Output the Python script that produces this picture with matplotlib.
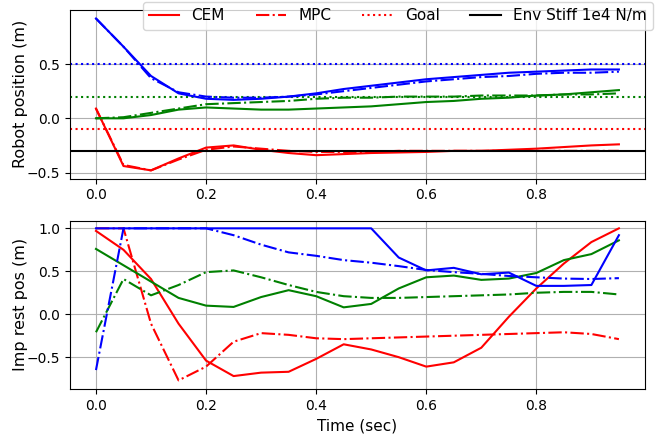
import matplotlib
matplotlib.use("Agg")
import matplotlib.pyplot as plt

# time axis (sec)
t = [0.0, 0.05, 0.1, 0.15, 0.2, 0.25, 0.3, 0.35, 0.4, 0.45,
     0.5, 0.55, 0.6, 0.65, 0.7, 0.75, 0.8, 0.85, 0.9, 0.95]

# robot position (m)
pos_cem_red = [0.09, -0.44, -0.48, -0.37, -0.27, -0.25, -0.29, -0.32, -0.34, -0.33,
               -0.32, -0.315, -0.31, -0.30, -0.30, -0.29, -0.28, -0.265, -0.25, -0.24]
pos_mpc_red = [0.09, -0.43, -0.48, -0.38, -0.29, -0.26, -0.28, -0.30, -0.31, -0.31,
               -0.31, -0.30, -0.30, -0.30, -0.30, -0.30, -0.30, -0.30, -0.30, -0.30]
pos_cem_green = [0.0, 0.0, 0.03, 0.08, 0.10, 0.09, 0.08, 0.08, 0.09, 0.10,
                 0.11, 0.13, 0.15, 0.16, 0.18, 0.19, 0.21, 0.22, 0.24, 0.26]
pos_mpc_green = [0.0, 0.01, 0.05, 0.09, 0.13, 0.14, 0.15, 0.16, 0.18, 0.19,
                 0.19, 0.20, 0.20, 0.20, 0.21, 0.21, 0.21, 0.22, 0.22, 0.23]
pos_cem_blue = [0.92, 0.66, 0.39, 0.23, 0.18, 0.17, 0.18, 0.20, 0.23, 0.27,
                0.30, 0.33, 0.36, 0.38, 0.40, 0.42, 0.43, 0.44, 0.45, 0.45]
pos_mpc_blue = [0.92, 0.66, 0.37, 0.24, 0.20, 0.19, 0.19, 0.20, 0.22, 0.25,
                0.28, 0.31, 0.34, 0.36, 0.38, 0.39, 0.41, 0.42, 0.42, 0.43]

goals = {"red": -0.1, "green": 0.2, "blue": 0.5}
env_wall = -0.3

# impedance rest position (m)
imp_cem_red = [0.97, 0.75, 0.41, -0.11, -0.54, -0.72, -0.68, -0.67, -0.52, -0.35,
               -0.41, -0.50, -0.61, -0.56, -0.39, -0.03, 0.30, 0.59, 0.84, 1.0]
imp_mpc_red = [1.0, 1.0, -0.11, -0.77, -0.61, -0.32, -0.22, -0.24, -0.28, -0.29,
               -0.28, -0.27, -0.26, -0.25, -0.24, -0.23, -0.22, -0.21, -0.23, -0.29]
imp_cem_green = [0.76, 0.57, 0.38, 0.19, 0.10, 0.085, 0.20, 0.28, 0.21, 0.08,
                 0.12, 0.30, 0.43, 0.45, 0.40, 0.415, 0.48, 0.63, 0.70, 0.86]
imp_mpc_green = [-0.21, 0.41, 0.22, 0.34, 0.49, 0.51, 0.43, 0.34, 0.26, 0.21,
                 0.19, 0.19, 0.20, 0.21, 0.22, 0.23, 0.25, 0.26, 0.26, 0.23]
imp_cem_blue = [1.0, 1.0, 1.0, 1.0, 1.0, 1.0, 1.0, 1.0, 1.0, 1.0,
                1.0, 0.66, 0.51, 0.54, 0.465, 0.485, 0.33, 0.33, 0.34, 0.92]
imp_mpc_blue = [-0.65, 1.0, 1.0, 1.0, 1.0, 0.92, 0.81, 0.72, 0.68, 0.63,
                0.60, 0.56, 0.515, 0.49, 0.47, 0.445, 0.43, 0.415, 0.41, 0.42]

pos = {"red": (pos_cem_red, pos_mpc_red),
       "green": (pos_cem_green, pos_mpc_green),
       "blue": (pos_cem_blue, pos_mpc_blue)}
imp = {"red": (imp_cem_red, imp_mpc_red),
       "green": (imp_cem_green, imp_mpc_green),
       "blue": (imp_cem_blue, imp_mpc_blue)}

plt.rcParams.update({"font.family": "DejaVu Sans", "font.size": 11,
                     "xtick.labelsize": 10, "ytick.labelsize": 10})

fig, (ax1, ax2) = plt.subplots(2, 1, figsize=(6.65, 4.41), dpi=100)
fig.subplots_adjust(left=0.105, right=0.970, top=0.977, bottom=0.118, hspace=0.25)

for c in ["red", "green", "blue"]:
    cem, mpc = pos[c]
    ax1.plot(t, cem, color=c, lw=1.5, ls="-", label="CEM" if c == "red" else None)
    ax1.plot(t, mpc, color=c, lw=1.5, ls="-.", label="MPC" if c == "red" else None)
    ax1.axhline(goals[c], color=c, lw=1.5, ls=":", label="Goal" if c == "red" else None)
ax1.axhline(env_wall, color="black", lw=1.5, label="Env Stiff 1e4 N/m")
ax1.set_ylabel("Robot position (m)", fontsize=11.5)
ax1.set_ylim(-0.555, 0.997)
ax1.set_yticks([-0.5, 0.0, 0.5])
ax1.grid(True)

for c in ["red", "green", "blue"]:
    cem, mpc = imp[c]
    ax2.plot(t, cem, color=c, lw=1.5, ls="-")
    ax2.plot(t, mpc, color=c, lw=1.5, ls="-.")
ax2.set_ylabel("Imp rest pos (m)", fontsize=11.5)
ax2.set_xlabel("Time (sec)")
ax2.set_ylim(-0.87, 1.09)
ax2.set_yticks([-0.5, 0.0, 0.5, 1.0])
ax2.grid(True)

for ax in (ax1, ax2):
    ax.set_xticks([0.0, 0.2, 0.4, 0.6, 0.8])
    ax.yaxis.set_label_coords(-0.073, 0.5)

fig.legend(loc="upper right", bbox_to_anchor=(0.993, 1.012), ncol=4)

fig.savefig("out.png", dpi=100, facecolor="white")
